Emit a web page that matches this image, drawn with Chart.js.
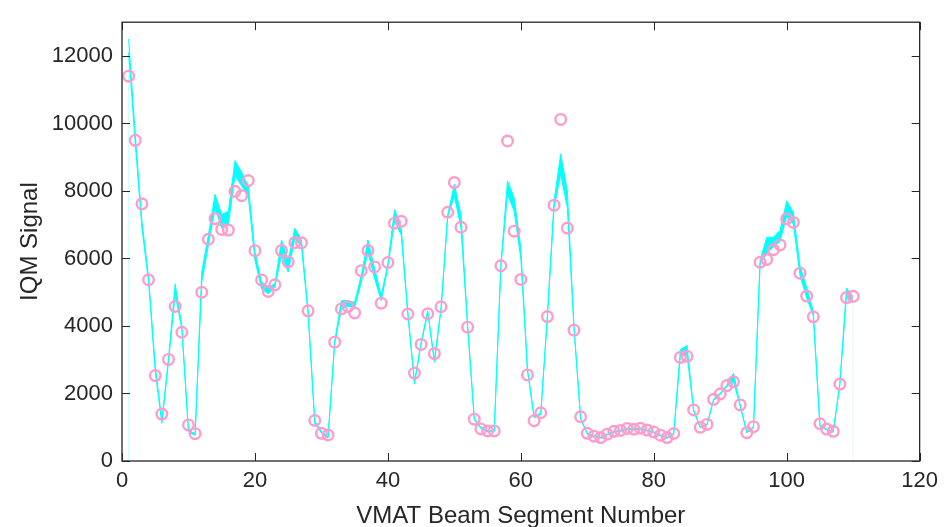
<!DOCTYPE html>
<html>
<head>
<meta charset="utf-8">
<title>IQM Signal</title>
<script src="https://cdn.jsdelivr.net/npm/chart.js@4/dist/chart.umd.min.js"></script>
<style>
    html, body { margin: 0; padding: 0; background: #ffffff; }
    #wrap { width: 945px; height: 527px; }
</style>
</head>
<body>
<div id="wrap"><canvas id="iqmChart" width="945" height="527"></canvas></div>
<script>
// measured IQM signal per beam segment (segments 1..110)
const measured = [
    11400, 9500, 7620, 5370, 2530, 1390, 3010, 4580, 3815, 1070,
    810, 5000, 6570, 7180, 6860, 6840, 7990, 7860, 8310, 6230,
    5365, 5025, 5220, 6235, 5900, 6470, 6465, 4450, 1200, 820,
    770, 3520, 4505, 4570, 4385, 5640, 6235, 5750, 4675, 5880,
    7045, 7100, 4355, 2605, 3455, 4362, 3182, 4570, 7370, 8250,
    6925, 3965, 1240, 950, 890, 890, 5785, 9480, 6810, 5380,
    2550, 1195, 1430, 4280, 7580, 10120, 6900, 3875, 1310, 820,
    735, 695, 795, 878, 905, 965, 940, 970, 915, 860,
    765, 695, 815, 3070, 3100, 1512, 998, 1085, 1828, 1985,
    2235, 2347, 1660, 840, 1018, 5888, 5970, 6258, 6402, 7175,
    7069, 5566, 4885, 4270, 1104, 945, 878, 2280, 4842, 4880
];

// calculated signal band, upper and lower limits
const bandUpper = [
    12500, 9650, 7100, 5450, 2800, 1200, 3050, 5250, 4000, 920,
    800, 5600, 6700, 7900, 7300, 7400, 8900, 8550, 8150, 6200,
    5300, 5150, 5250, 6550, 5950, 6900, 6550, 4450, 1180, 880,
    720, 3550, 4750, 4750, 4700, 5500, 6550, 5700, 4900, 5850,
    7450, 6900, 4420, 2350, 3520, 4450, 2980, 4550, 7300, 8200,
    7300, 4020, 1260, 1000, 900, 900, 5820, 8300, 7800, 6300,
    2720, 1320, 1420, 4320, 7700, 9100, 8000, 3980, 1270, 820,
    740, 700, 800, 880, 910, 970, 950, 975, 920, 870,
    770, 700, 820, 3300, 3420, 1520, 1010, 1090, 1830, 2010,
    2250, 2600, 1660, 860, 1020, 5950, 6630, 6630, 6830, 7710,
    7360, 5780, 5150, 4420, 1060, 950, 880, 2300, 5120, 4860
];
const bandLower = [
    12100, 9400, 6900, 5300, 2650, 1120, 2950, 4950, 3900, 860,
    760, 5300, 6400, 7500, 6900, 7000, 8450, 8150, 7850, 5950,
    5100, 4950, 5150, 6100, 5600, 6600, 6350, 4350, 1120, 830,
    680, 3480, 4500, 4580, 4550, 5300, 6200, 5400, 4750, 5750,
    7100, 6700, 4350, 2280, 3460, 4400, 2920, 4480, 7230, 7850,
    6900, 3960, 1220, 960, 870, 870, 5760, 7900, 7400, 6000,
    2670, 1280, 1380, 4270, 7500, 8500, 7500, 3930, 1230, 790,
    710, 670, 770, 850, 880, 940, 920, 945, 890, 840,
    740, 670, 790, 3100, 3150, 1480, 980, 1060, 1800, 1970,
    2210, 2350, 1630, 830, 990, 5850, 6150, 6350, 6500, 7260,
    7020, 5500, 4830, 4300, 1030, 920, 850, 2270, 4910, 4680
];

const xTicks = [0, 20, 40, 60, 80, 100, 120];
const yTicks = [0, 2000, 4000, 6000, 8000, 10000, 12000];

const ink = '#262626';
const fontFamily = '"Liberation Sans", Arial, Helvetica, sans-serif';

const toPoints = values => values.map((v, i) => ({x: i + 1, y: v}));
const last = measured.length;

// the band polygon is closed down to zero at both ends
const startEdge = [{x: 1, y: 0}, {x: 1, y: bandLower[0]}];
const endEdge = [{x: last, y: bandLower[last - 1]}, {x: last, y: 0}];

// MATLAB style box with inward ticks on all four sides
const boxAxes = {
    id: 'boxAxes',
    afterDraw(chart) {
        const {ctx, chartArea: a, scales} = chart;
        const len = 8;
        ctx.save();
        ctx.strokeStyle = ink;
        ctx.lineWidth = 1.3;
        ctx.strokeRect(a.left, a.top, a.right - a.left, a.bottom - a.top);
        ctx.beginPath();
        xTicks.forEach(t => {
            const px = Math.round(scales.x.getPixelForValue(t)) + 0.5;
            ctx.moveTo(px, a.bottom); ctx.lineTo(px, a.bottom - len);
            ctx.moveTo(px, a.top); ctx.lineTo(px, a.top + len);
        });
        yTicks.forEach(t => {
            const py = Math.round(scales.y.getPixelForValue(t)) + 0.5;
            ctx.moveTo(a.left, py); ctx.lineTo(a.left + len, py);
            ctx.moveTo(a.right, py); ctx.lineTo(a.right - len, py);
        });
        ctx.lineWidth = 1;
        ctx.stroke();
        ctx.restore();
    }
};

new Chart(document.getElementById('iqmChart'), {
    type: 'line',
    data: {
        datasets: [
            {
                label: 'upper',
                data: toPoints(bandUpper),
                borderColor: '#00ffff',
                borderWidth: 1,
                pointRadius: 0,
                fill: false,
                order: 2
            },
            {
                label: 'lower',
                data: toPoints(bandLower),
                borderColor: '#00ffff',
                backgroundColor: '#00ffff',
                borderWidth: 1,
                pointRadius: 0,
                fill: 0,
                order: 2
            },
            {
                label: 'start edge',
                data: startEdge,
                borderColor: '#c8ffff',
                borderWidth: 1,
                pointRadius: 0,
                fill: false,
                order: 3
            },
            {
                label: 'end edge',
                data: endEdge,
                borderColor: '#f2fbfb',
                borderWidth: 1,
                pointRadius: 0,
                fill: false,
                order: 3
            },
            {
                label: 'measured',
                data: toPoints(measured),
                showLine: false,
                pointRadius: 5.3,
                pointBorderWidth: 2.4,
                pointBorderColor: '#ff9ccc',
                pointBackgroundColor: 'rgba(0,0,0,0)',
                order: 0
            }
        ]
    },
    options: {
        responsive: false,
        animation: false,
        elements: {line: {tension: 0}},
        layout: {padding: {top: 9, right: 22, left: 0, bottom: 0}},
        plugins: {legend: {display: false}, tooltip: {enabled: false}},
        scales: {
            x: {
                type: 'linear',
                min: 0,
                max: 120,
                grid: {display: false, drawTicks: false},
                border: {display: false},
                afterFit: scale => { scale.height = 66; },
                afterBuildTicks: scale => { scale.ticks = xTicks.map(v => ({value: v})); },
                ticks: {
                    color: ink,
                    padding: 7,
                    maxRotation: 0,
                    callback: v => String(v),
                    font: {family: fontFamily, size: 22}
                },
                title: {
                    display: true,
                    text: 'VMAT Beam Segment Number',
                    color: ink,
                    font: {family: fontFamily, size: 24},
                    padding: {top: 0, bottom: -4}
                }
            },
            y: {
                type: 'linear',
                min: 0,
                max: 13000,
                grid: {display: false, drawTicks: false},
                border: {display: false},
                afterFit: scale => { scale.width = 122; },
                afterBuildTicks: scale => { scale.ticks = yTicks.map(v => ({value: v})); },
                ticks: {
                    color: ink,
                    padding: 9,
                    callback: v => String(v),
                    font: {family: fontFamily, size: 22}
                },
                title: {
                    display: true,
                    text: 'IQM Signal',
                    color: ink,
                    font: {family: fontFamily, size: 24},
                    padding: {top: 16, bottom: 0}
                }
            }
        }
    },
    plugins: [boxAxes]
});
</script>
</body>
</html>
